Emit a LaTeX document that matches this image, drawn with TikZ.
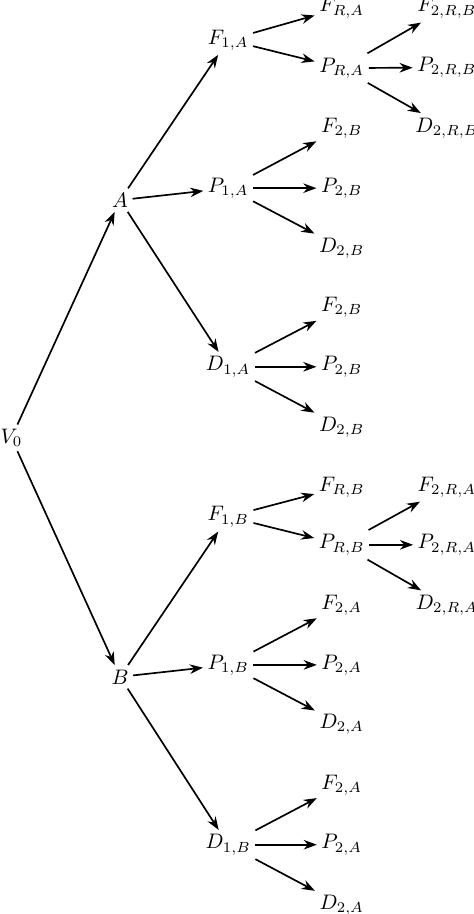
\documentclass[tikz,border=0pt]{standalone}
\usepackage{amsmath,amssymb}
\usepackage{tikz}
\usetikzlibrary{arrows.meta, positioning}

\begin{document}
\begin{tikzpicture}[
    state/.style={inner sep=2pt},
    arrow/.style={-{Stealth[length=2.2mm, width=1.6mm]}, thick}
]
\useasboundingbox (0,0) rectangle (7.93,-15.30);

% Root and first choice
\node[state] (v0) at (0.19,-7.33) {$V_0$};
\node[state] (a) at (2.01,-3.35) {$A$};
\node[state] (b) at (2.01,-11.33) {$B$};

\draw[arrow] (v0) -- (a);
\draw[arrow] (v0) -- (b);

% Branch A
\node[state] (f1a) at (3.82,-0.67) {$F_{1,A}$};
\node[state] (p1a) at (3.82,-3.15) {$P_{1,A}$};
\node[state] (d1a) at (3.82,-6.14) {$D_{1,A}$};

\draw[arrow] (a) -- (f1a);
\draw[arrow] (a) -- (p1a);
\draw[arrow] (a) -- (d1a);

\node[state] (fra) at (5.72,-0.13) {$F_{R,A}$};
\node[state] (pra) at (5.72,-1.14) {$P_{R,A}$};
\draw[arrow] (f1a) -- (fra);
\draw[arrow] (f1a) -- (pra);

\node[state] (f2rb) at (7.48,-0.13) {$F_{2,R,B}$};
\node[state] (p2rb) at (7.48,-1.13) {$P_{2,R,B}$};
\node[state] (d2rb) at (7.48,-2.14) {$D_{2,R,B}$};
\draw[arrow] (pra) -- (f2rb);
\draw[arrow] (pra) -- (p2rb);
\draw[arrow] (pra) -- (d2rb);

\node[state] (f2b) at (5.72,-2.14) {$F_{2,B}$};
\node[state] (p2b) at (5.72,-3.15) {$P_{2,B}$};
\node[state] (d2b) at (5.72,-4.15) {$D_{2,B}$};
\draw[arrow] (p1a) -- (f2b);
\draw[arrow] (p1a) -- (p2b);
\draw[arrow] (p1a) -- (d2b);

\node[state] (f2bb) at (5.72,-5.15) {$F_{2,B}$};
\node[state] (p2bb) at (5.72,-6.14) {$P_{2,B}$};
\node[state] (d2bb) at (5.72,-7.15) {$D_{2,B}$};
\draw[arrow] (d1a) -- (f2bb);
\draw[arrow] (d1a) -- (p2bb);
\draw[arrow] (d1a) -- (d2bb);

% Branch B
\node[state] (f1b) at (3.82,-8.65) {$F_{1,B}$};
\node[state] (p1b) at (3.82,-11.13) {$P_{1,B}$};
\node[state] (d1b) at (3.82,-14.14) {$D_{1,B}$};

\draw[arrow] (b) -- (f1b);
\draw[arrow] (b) -- (p1b);
\draw[arrow] (b) -- (d1b);

\node[state] (frb) at (5.72,-8.15) {$F_{R,B}$};
\node[state] (prb) at (5.72,-9.12) {$P_{R,B}$};
\draw[arrow] (f1b) -- (frb);
\draw[arrow] (f1b) -- (prb);

\node[state] (f2ra) at (7.48,-8.15) {$F_{2,R,A}$};
\node[state] (p2ra) at (7.48,-9.12) {$P_{2,R,A}$};
\node[state] (d2ra) at (7.48,-10.13) {$D_{2,R,A}$};
\draw[arrow] (prb) -- (f2ra);
\draw[arrow] (prb) -- (p2ra);
\draw[arrow] (prb) -- (d2ra);

\node[state] (f2a) at (5.72,-10.13) {$F_{2,A}$};
\node[state] (p2a) at (5.72,-11.13) {$P_{2,A}$};
\node[state] (d2a) at (5.72,-12.13) {$D_{2,A}$};
\draw[arrow] (p1b) -- (f2a);
\draw[arrow] (p1b) -- (p2a);
\draw[arrow] (p1b) -- (d2a);

\node[state] (f2aa) at (5.72,-13.14) {$F_{2,A}$};
\node[state] (p2aa) at (5.72,-14.14) {$P_{2,A}$};
\node[state] (d2aa) at (5.72,-15.15) {$D_{2,A}$};
\draw[arrow] (d1b) -- (f2aa);
\draw[arrow] (d1b) -- (p2aa);
\draw[arrow] (d1b) -- (d2aa);

\end{tikzpicture}
\end{document}
